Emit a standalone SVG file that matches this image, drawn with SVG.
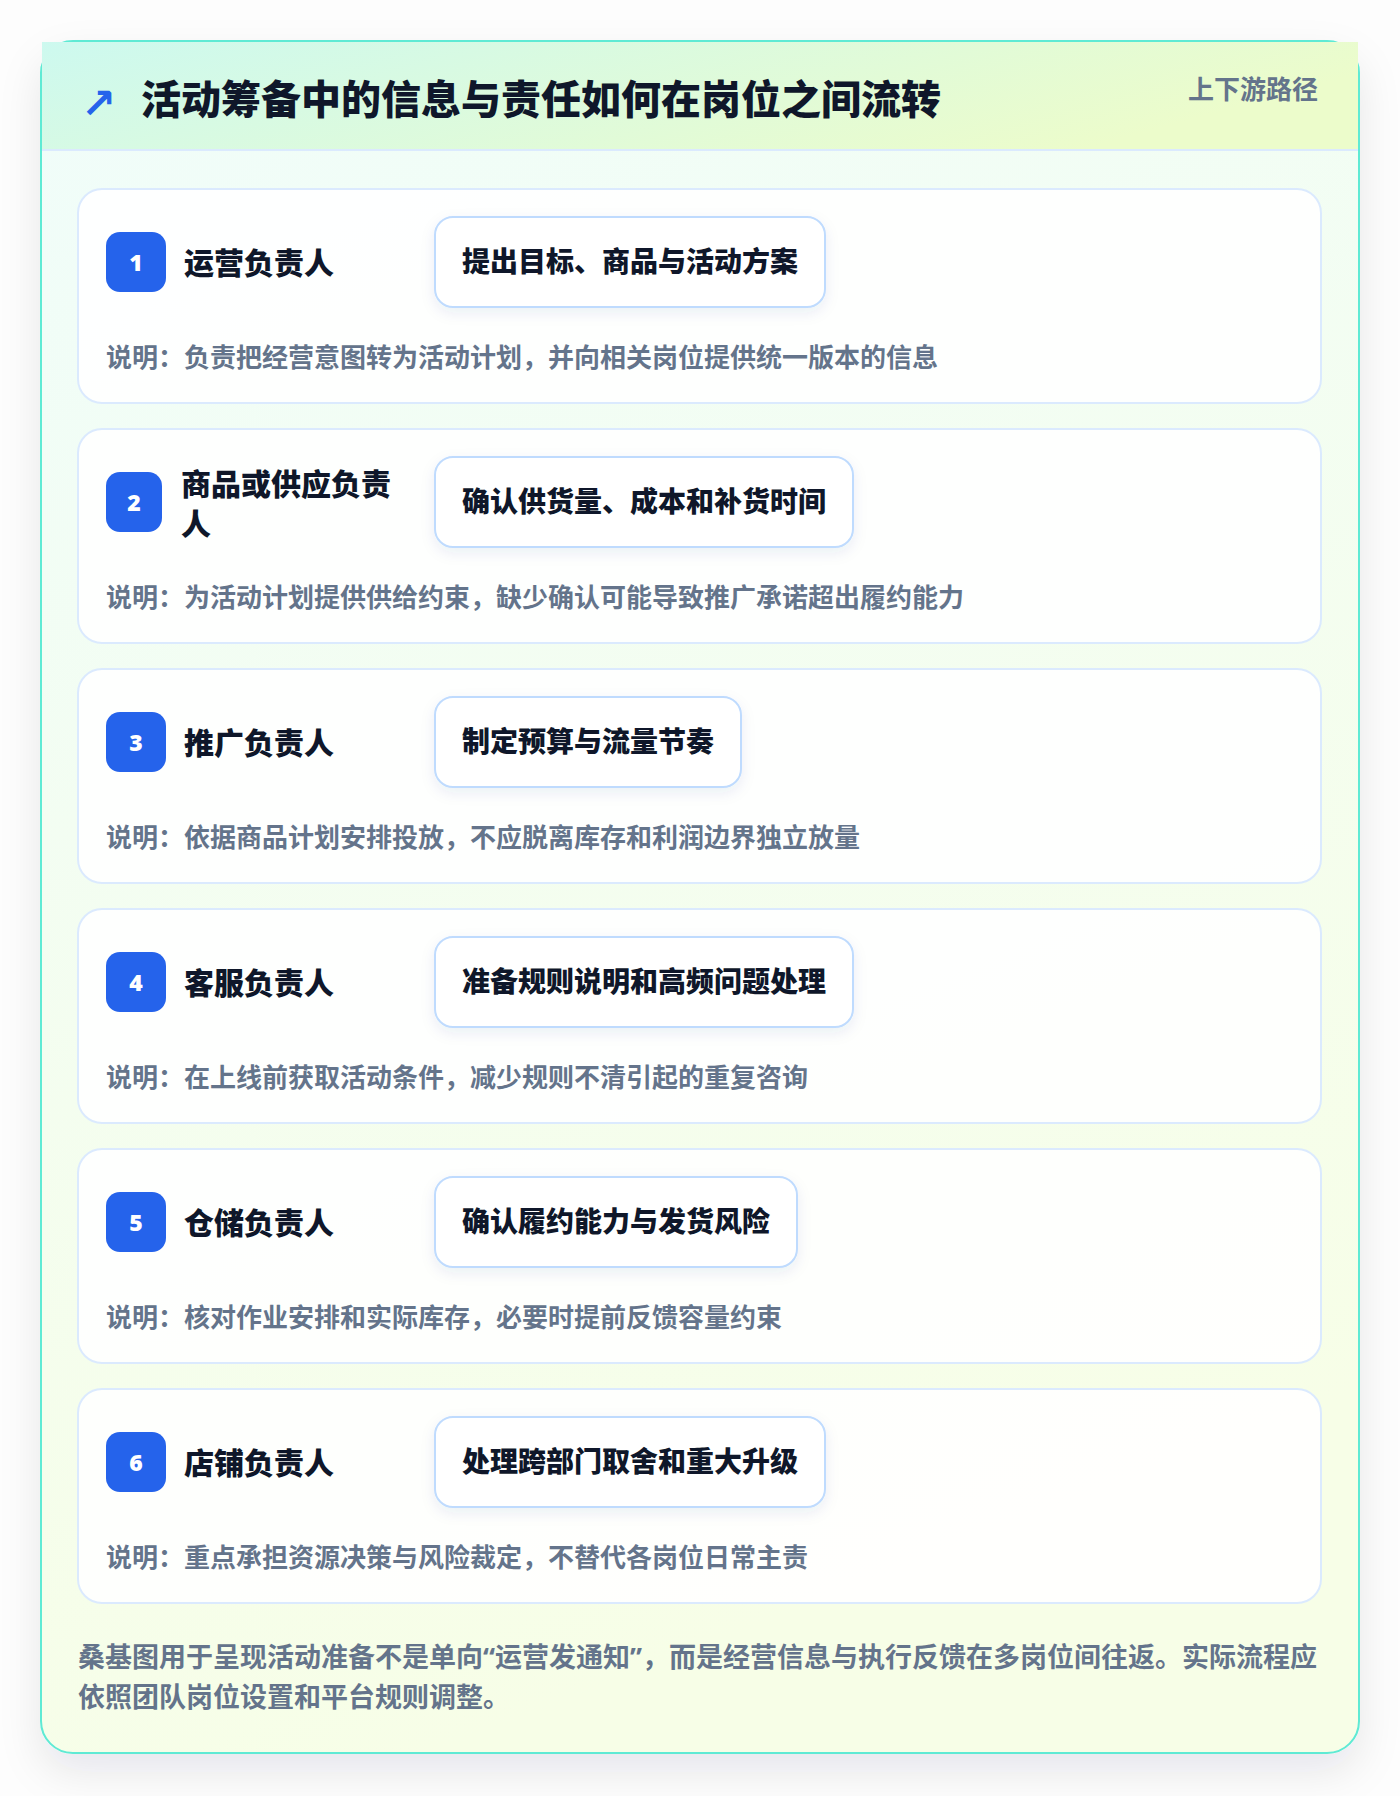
<svg xmlns="http://www.w3.org/2000/svg" width="1400" height="1796" viewBox="0 0 1400 1796">
<defs>
<linearGradient id="hdr" x1="0" y1="0" x2="1" y2="0.3">
<stop offset="0" stop-color="#cdf9ef"/>
<stop offset="1" stop-color="#ecfccb"/>
</linearGradient>
<linearGradient id="body" x1="0" y1="0" x2="0.3" y2="1">
<stop offset="0" stop-color="#f0fdfa"/>
<stop offset="1" stop-color="#f7fee7"/>
</linearGradient>
<filter id="cardShadow" x="-10%" y="-10%" width="120%" height="120%">
<feDropShadow dx="0" dy="18" stdDeviation="20" flood-color="#0f172a" flood-opacity="0.09"/>
</filter>
<filter id="pillShadow" x="-10%" y="-20%" width="120%" height="160%">
<feDropShadow dx="0" dy="5" stdDeviation="7" flood-color="#1e3a8a" flood-opacity="0.08"/>
</filter>
<style>
.t{font-family:"Noto Sans CJK SC","Noto Sans",sans-serif;}
.title{font-size:40px;font-weight:900;fill:#0f172a;}
.tag{font-size:26px;font-weight:700;fill:#64748b;}
.box{fill:#ffffff;fill-opacity:0.9;stroke:#dbeafe;stroke-width:2;}
.badge{fill:#2563eb;}
.num{font-family:"Noto Sans","DejaVu Sans",sans-serif;font-size:23px;font-weight:900;fill:#ffffff;}
.role{font-size:30px;font-weight:800;fill:#0f172a;}
.pill{fill:#ffffff;stroke:#bfdbfe;stroke-width:2;}
.act{font-size:28px;font-weight:800;fill:#0f172a;}
.desc{font-size:26px;font-weight:700;fill:#64748b;}
.foot{font-size:27px;font-weight:700;fill:#64748b;}
.q{font-family:"Noto Sans",sans-serif;}
</style>
</defs>
<rect x="0" y="0" width="1400" height="1796" fill="#fdfdfd"/>
<g id="card">
<rect x="41" y="41" width="1318" height="1712" rx="32" fill="url(#body)" stroke="#5eead4" stroke-width="2" filter="url(#cardShadow)"/>
<rect x="42" y="42" width="1316" height="108" fill="url(#hdr)"/>
<line x1="42" y1="150" x2="1358" y2="150" stroke="#dbeafe" stroke-width="2"/>
<text x="81" y="118" font-family="DejaVu Sans,sans-serif" font-size="42" font-weight="700" fill="#2563eb">↗</text>
<text class="t title" x="141" y="114">活动筹备中的信息与责任如何在岗位之间流转</text>
<text class="t tag" x="1318" y="99" text-anchor="end">上下游路径</text>
</g>
<g id="connectors"></g>
<g id="node-1">
<rect class="box" x="78" y="189" width="1243" height="214" rx="24"/>
<rect class="badge" x="106" y="232" width="60" height="60" rx="14"/>
<text class="num" x="136" y="271" text-anchor="middle">1</text>
<text class="t role" x="184" y="274">运营负责人</text>
<rect class="pill" x="435" y="217" width="390" height="90" rx="18" filter="url(#pillShadow)"/>
<text class="t act" x="630" y="272" text-anchor="middle">提出目标、商品与活动方案</text>
<text class="t desc" x="106" y="367">说明：负责把经营意图转为活动计划，并向相关岗位提供统一版本的信息</text>
</g>
<g id="node-2">
<rect class="box" x="78" y="429" width="1243" height="214" rx="24"/>
<rect class="badge" x="106" y="472" width="56" height="60" rx="14"/>
<text class="num" x="134" y="511" text-anchor="middle">2</text>
<text class="t role" x="181" y="495">商品或供应负责</text>
<text class="t role" x="181" y="535">人</text>
<rect class="pill" x="435" y="457" width="418" height="90" rx="18" filter="url(#pillShadow)"/>
<text class="t act" x="644" y="512" text-anchor="middle">确认供货量、成本和补货时间</text>
<text class="t desc" x="106" y="607">说明：为活动计划提供供给约束，缺少确认可能导致推广承诺超出履约能力</text>
</g>
<g id="node-3">
<rect class="box" x="78" y="669" width="1243" height="214" rx="24"/>
<rect class="badge" x="106" y="712" width="60" height="60" rx="14"/>
<text class="num" x="136" y="751" text-anchor="middle">3</text>
<text class="t role" x="184" y="754">推广负责人</text>
<rect class="pill" x="435" y="697" width="306" height="90" rx="18" filter="url(#pillShadow)"/>
<text class="t act" x="588" y="752" text-anchor="middle">制定预算与流量节奏</text>
<text class="t desc" x="106" y="847">说明：依据商品计划安排投放，不应脱离库存和利润边界独立放量</text>
</g>
<g id="node-4">
<rect class="box" x="78" y="909" width="1243" height="214" rx="24"/>
<rect class="badge" x="106" y="952" width="60" height="60" rx="14"/>
<text class="num" x="136" y="991" text-anchor="middle">4</text>
<text class="t role" x="184" y="994">客服负责人</text>
<rect class="pill" x="435" y="937" width="418" height="90" rx="18" filter="url(#pillShadow)"/>
<text class="t act" x="644" y="992" text-anchor="middle">准备规则说明和高频问题处理</text>
<text class="t desc" x="106" y="1087">说明：在上线前获取活动条件，减少规则不清引起的重复咨询</text>
</g>
<g id="node-5">
<rect class="box" x="78" y="1149" width="1243" height="214" rx="24"/>
<rect class="badge" x="106" y="1192" width="60" height="60" rx="14"/>
<text class="num" x="136" y="1231" text-anchor="middle">5</text>
<text class="t role" x="184" y="1234">仓储负责人</text>
<rect class="pill" x="435" y="1177" width="362" height="90" rx="18" filter="url(#pillShadow)"/>
<text class="t act" x="616" y="1232" text-anchor="middle">确认履约能力与发货风险</text>
<text class="t desc" x="106" y="1327">说明：核对作业安排和实际库存，必要时提前反馈容量约束</text>
</g>
<g id="node-6">
<rect class="box" x="78" y="1389" width="1243" height="214" rx="24"/>
<rect class="badge" x="106" y="1432" width="60" height="60" rx="14"/>
<text class="num" x="136" y="1471" text-anchor="middle">6</text>
<text class="t role" x="184" y="1474">店铺负责人</text>
<rect class="pill" x="435" y="1417" width="390" height="90" rx="18" filter="url(#pillShadow)"/>
<text class="t act" x="630" y="1472" text-anchor="middle">处理跨部门取舍和重大升级</text>
<text class="t desc" x="106" y="1567">说明：重点承担资源决策与风险裁定，不替代各岗位日常主责</text>
</g>
<g id="footer">
<text class="t foot" x="78" y="1667">桑基图用于呈现活动准备不是单向<tspan class="q">“</tspan>运营发通知<tspan class="q">”</tspan>，而是经营信息与执行反馈在多岗位间往返。实际流程应</text>
<text class="t foot" x="78" y="1707">依照团队岗位设置和平台规则调整。</text>
</g>
</svg>
